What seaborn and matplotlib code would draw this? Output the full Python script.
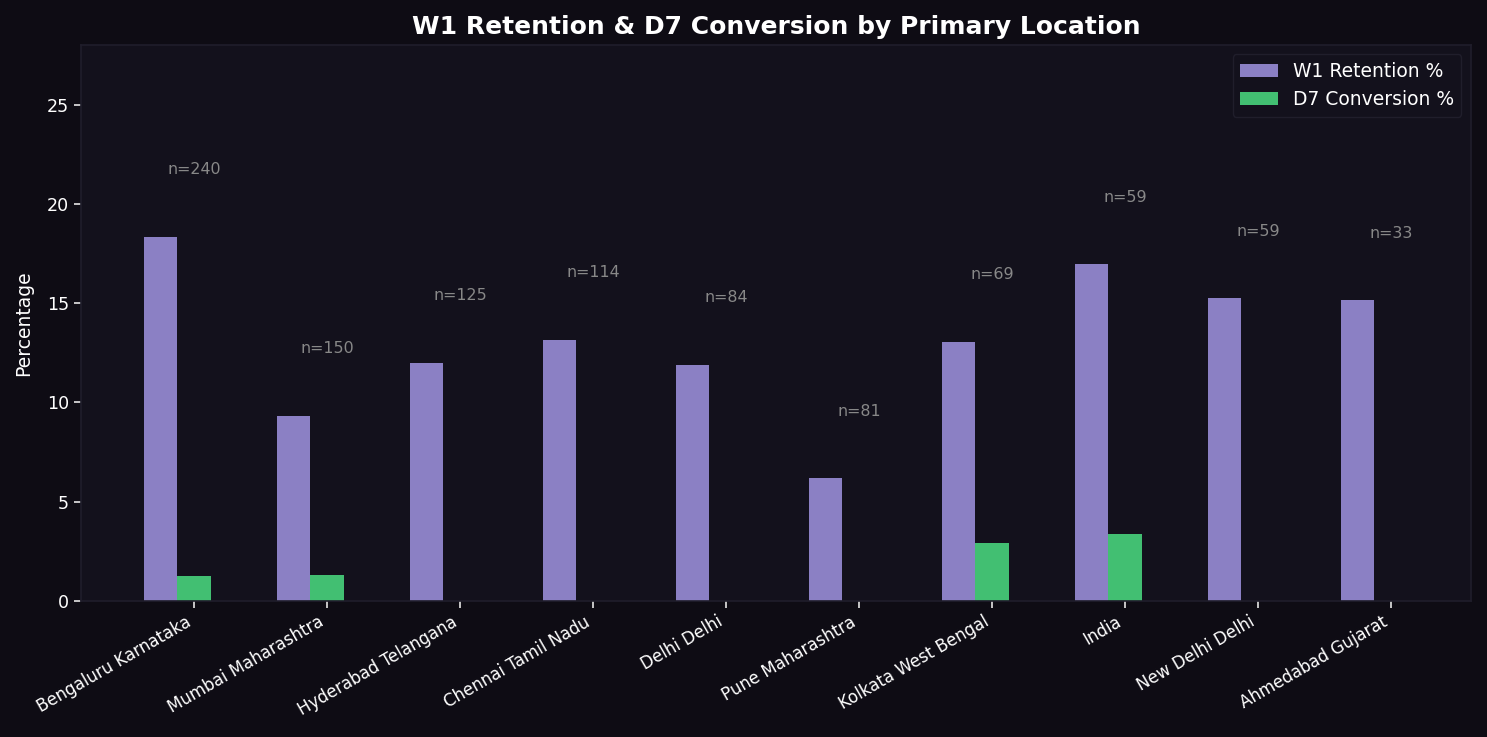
import numpy as np
import pandas as pd
import matplotlib
matplotlib.use("Agg")
import matplotlib.pyplot as plt
import seaborn as sns

# data
locations = [
    "Bengaluru Karnataka", "Mumbai Maharashtra", "Hyderabad Telangana",
    "Chennai Tamil Nadu", "Delhi Delhi", "Pune Maharashtra",
    "Kolkata West Bengal", "India", "New Delhi Delhi", "Ahmedabad Gujarat",
]
n_users = [240, 150, 125, 114, 84, 81, 69, 59, 59, 33]
w1_retention = [18.33, 9.33, 12.0, 13.16, 11.9, 6.17, 13.04, 16.95, 15.25, 15.15]
d7_conversion = [1.25, 1.33, 0.0, 0.0, 0.0, 0.0, 2.90, 3.39, 0.0, 0.0]

BG = "#0e0c14"
PANEL = "#13111c"
EDGE = "#201e2b"
PURPLE = "#8b80c4"
GREEN = "#42bf72"

sns.set_theme(style="dark")
plt.rcParams.update({
    "figure.facecolor": BG,
    "axes.facecolor": PANEL,
    "axes.edgecolor": EDGE,
    "axes.labelcolor": "white",
    "xtick.color": "#dddddd",
    "ytick.color": "#dddddd",
    "text.color": "white",
    "xtick.bottom": True,
    "ytick.left": True,
})
plt.rcParams["font.family"] = ["DejaVu Sans"]

df = pd.DataFrame({
    "Location": locations * 2,
    "Metric": ["W1 Retention %"] * len(locations) + ["D7 Conversion %"] * len(locations),
    "Value": w1_retention + d7_conversion,
})

fig, ax = plt.subplots(figsize=(14.87, 7.37), dpi=100)
fig.subplots_adjust(left=0.0545, right=0.989, top=0.939, bottom=0.1845)

sns.barplot(data=df, x="Location", y="Value", hue="Metric", order=locations,
            palette={"W1 Retention %": PURPLE, "D7 Conversion %": GREEN},
            width=0.5, saturation=1, errorbar=None, linewidth=0,
            edgecolor="none", ax=ax)

# sample-size labels above each group
for i, (n, w, d) in enumerate(zip(n_users, w1_retention, d7_conversion)):
    ax.text(i + 0.125, max(w, d) + 3, f"n={n}", ha="center", va="bottom",
            fontsize=11.4, color="#888888")

ax.set_xticks(np.arange(len(locations)) + 0.125)
ax.set_xticklabels(locations, rotation=30, ha="right", fontsize=12, color="white")
ax.set_xlim(-0.725, 9.725)
ax.set_ylim(0, 28)
ax.set_yticks([0, 5, 10, 15, 20, 25])
ax.tick_params(axis="y", labelsize=12.6, labelcolor="white", length=5, color="#dddddd")
ax.tick_params(axis="x", length=5, color="#dddddd")
ax.set_xlabel("")
ax.set_ylabel("Percentage", fontsize=13.5, color="white", labelpad=10)
ax.set_title("W1 Retention & D7 Conversion by Primary Location",
             fontsize=18, fontweight="bold", color="white", pad=8)

for s in ax.spines.values():
    s.set_visible(True)
    s.set_color(EDGE)
    s.set_linewidth(1.2)

leg = ax.legend(loc="upper right", fontsize=13.5, title=None, frameon=True,
                facecolor=PANEL, edgecolor=EDGE, framealpha=1)
for t in leg.get_texts():
    t.set_color("white")

fig.savefig("out.png", dpi=100, facecolor=BG)
